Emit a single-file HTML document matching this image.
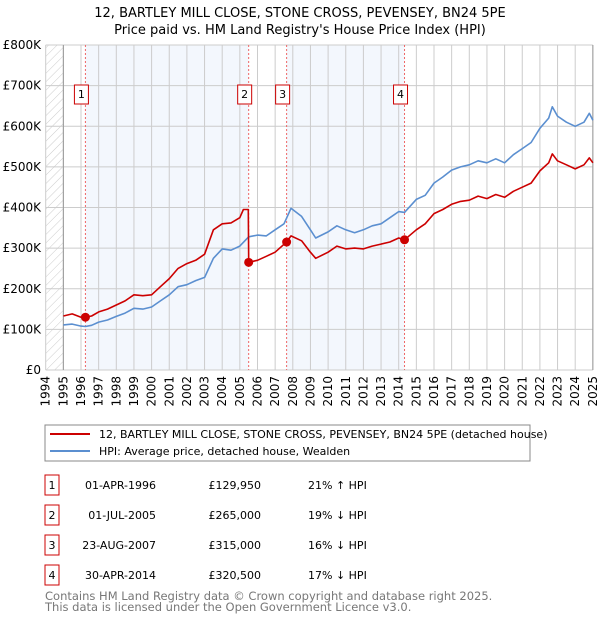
<!DOCTYPE html>
<html><head><meta charset="utf-8"><style>
body{margin:0;background:#fff;font-family:"DejaVu Sans","Liberation Sans",sans-serif;}
svg text{font-family:"DejaVu Sans","Liberation Sans",sans-serif;}
</style></head><body>
<svg id="chart" width="600" height="620" xmlns="http://www.w3.org/2000/svg">
<text x="300" y="17" font-size="13" text-anchor="middle">12, BARTLEY MILL CLOSE, STONE CROSS, PEVENSEY, BN24 5PE</text>
<text x="300" y="34" font-size="13" text-anchor="middle">Price paid vs. HM Land Registry's House Price Index (HPI)</text>
<defs><pattern id="hatch" patternUnits="userSpaceOnUse" width="6" height="6" patternTransform="rotate(45)"><line x1="0" y1="0" x2="0" y2="6" stroke="#ccc" stroke-width="1"/></pattern></defs>
<g id="plot"></g>
<g>
<rect x="45" y="425" width="485" height="36" fill="#fff" stroke="#888"/>
<line x1="50" y1="434" x2="90" y2="434" stroke="#cc0000" stroke-width="2"/>
<text x="99" y="438" font-size="11">12, BARTLEY MILL CLOSE, STONE CROSS, PEVENSEY, BN24 5PE (detached house)</text>
<line x1="50" y1="451" x2="90" y2="451" stroke="#5b8fd0" stroke-width="2"/>
<text x="99" y="455" font-size="11">HPI: Average price, detached house, Wealden</text>
</g>
<g id="table" font-size="11"></g>
<text x="45" y="600" font-size="11.5" fill="#777">Contains HM Land Registry data © Crown copyright and database right 2025.</text>
<text x="45" y="611" font-size="11.5" fill="#777">This data is licensed under the Open Government Licence v3.0.</text>
</svg>
<script>
const hpiYears=[1995,1995.5,1996,1996.25,1996.6,1997,1997.5,1998,1998.5,1999,1999.5,2000,2000.5,2001,2001.5,2002,2002.5,2003,2003.5,2004,2004.5,2005,2005.5,2006,2006.5,2007,2007.5,2007.9,2008.5,2009,2009.3,2010,2010.5,2011,2011.5,2012,2012.5,2013,2013.5,2014,2014.33,2015,2015.5,2016,2016.5,2017,2017.5,2018,2018.5,2019,2019.5,2020,2020.5,2021,2021.5,2022,2022.5,2022.7,2023,2023.5,2024,2024.5,2024.8,2025];
const hpiValues=[111,113,108,107,110,118,123,132,140,152,150,155,170,185,205,210,220,228,275,298,295,305,328,332,330,345,360,398,378,345,325,340,355,345,338,345,355,360,375,390,388,420,430,460,475,492,500,505,515,510,520,510,530,545,560,595,620,648,625,610,600,610,632,615];
const paidYears=[1995,1995.5,1996,1996.25,1996.6,1997,1997.5,1998,1998.5,1999,1999.5,2000,2000.5,2001,2001.5,2002,2002.5,2003,2003.5,2004,2004.5,2005,2005.2,2005.48,2005.5,2006,2006.5,2007,2007.65,2007.9,2008.5,2009,2009.3,2010,2010.5,2011,2011.5,2012,2012.5,2013,2013.5,2014,2014.33,2015,2015.5,2016,2016.5,2017,2017.5,2018,2018.5,2019,2019.5,2020,2020.5,2021,2021.5,2022,2022.5,2022.7,2023,2023.5,2024,2024.5,2024.8,2025];
const paidValues=[133,138,130,130,133,143,150,160,170,185,183,185,205,225,250,262,270,285,345,360,362,375,395,395,265,270,280,290,315,330,318,290,275,290,305,298,300,298,305,310,315,325,320.5,345,360,385,395,408,415,418,428,422,432,425,440,450,460,490,510,532,515,505,495,505,522,510];
const saleYears=[1996.25,2005.5,2007.65,2014.33];
const saleValues=[129.95,265,315,320.5];
const saleLabels=["1","2","3","4"];
const saleDates=["01-APR-1996","01-JUL-2005","23-AUG-2007","30-APR-2014"];
const salePrices=["£129,950","£265,000","£315,000","£320,500"];
const saleDiffs=["21% ↑ HPI","19% ↓ HPI","16% ↓ HPI","17% ↓ HPI"];
const yTicks=[0,100,200,300,400,500,600,700,800];
const yTickLabels=["£0","£100K","£200K","£300K","£400K","£500K","£600K","£700K","£800K"];
const xTicks=[1994,1995,1996,1997,1998,1999,2000,2001,2002,2003,2004,2005,2006,2007,2008,2009,2010,2011,2012,2013,2014,2015,2016,2017,2018,2019,2020,2021,2022,2023,2024,2025];

const NS="http://www.w3.org/2000/svg";
const X0=45.7,XS=17.65,Y0=370,YS=0.40625;
const x=v=>X0+XS*(v-1994);
const y=v=>Y0-YS*v;
const plot=document.getElementById('plot');
function mk(tag,attrs,parent){const e=document.createElementNS(NS,tag);for(const k in attrs)e.setAttribute(k,attrs[k]);(parent||plot).appendChild(e);return e;}
// background shading
let bg=mk('rect',{x:x(1994),y:y(800),width:x(1995)-x(1994),height:y(0)-y(800),fill:'url(#hatch)'});


const shades=[[saleYears[0],saleYears[1]],[saleYears[2],saleYears[3]]];
shades.forEach(s=>{const r=mk('rect',{x:x(s[0]),y:y(800),width:x(s[1])-x(s[0]),height:y(0)-y(800),fill:'#eef3fc',opacity:0.7});

});
// grid
yTicks.forEach((t,i)=>{const l=mk('line',{x1:x(1994),x2:x(2025),y1:y(t),y2:y(t),stroke:'#ccc'});


const tx=mk('text',{x:41,y:y(t)+4,'font-size':12,'text-anchor':'end'});tx.textContent=yTickLabels[i];

});
xTicks.forEach(t=>{const l=mk('line',{x1:x(t),x2:x(t),y1:y(800),y2:y(0),stroke:'#ccc'});


const tx=mk('text',{x:0,y:0,'font-size':12,'text-anchor':'end',transform:`translate(${x(t)+4},376) rotate(-90)`});tx.textContent=t;

});
mk('line',{x1:x(1995),x2:x(1995),y1:y(800),y2:y(0),stroke:'#999'});
mk('line',{x1:x(2025),x2:x(2025),y1:y(800),y2:y(0),stroke:'#999'});
// sale dashed lines & labels
saleYears.forEach((s,i)=>{const l=mk('line',{x1:x(s),x2:x(s),y1:y(800),y2:y(0),stroke:'#e66','stroke-dasharray':'2,2'});


const g=mk('g',{});


mk('rect',{x:x(s)-11,y:85,width:14,height:19,fill:'#fff',stroke:'#cc0000'},g);
const t=mk('text',{x:x(s)-4,y:98,'font-size':11,'text-anchor':'middle'},g);t.textContent=saleLabels[i];});
function path(xs,vs,color,name){const d=xs.map((v,i)=>(i?'L':'M')+x(v).toFixed(1)+','+y(vs[i]).toFixed(1)).join('');
const p=mk('path',{d:d,fill:'none',stroke:color,'stroke-width':1.6,'stroke-linejoin':'round'});

}
path(hpiYears,hpiValues,'#5b8fd0','hpi-line');
path(paidYears,paidValues,'#cc0000','price-paid-line');
saleYears.forEach((s,i)=>{const c=mk('circle',{cx:x(s),cy:y(saleValues[i]),r:4.5,fill:'#cc0000'});

});
// table
const tb=document.getElementById('table');
saleLabels.forEach((lab,i)=>{const ty=475+i*30;
const g=mk('g',{},tb);


mk('rect',{x:45,y:ty,width:14,height:20,fill:'#fff',stroke:'#cc0000'},g);
let t=mk('text',{x:52,y:ty+14,'text-anchor':'middle'},g);t.textContent=lab;
t=mk('text',{x:156,y:ty+14,'text-anchor':'end'},g);t.textContent=saleDates[i];
t=mk('text',{x:261,y:ty+14,'text-anchor':'end'},g);t.textContent=salePrices[i];
t=mk('text',{x:308,y:ty+14},g);t.textContent=saleDiffs[i];});
</script>
</body></html>
